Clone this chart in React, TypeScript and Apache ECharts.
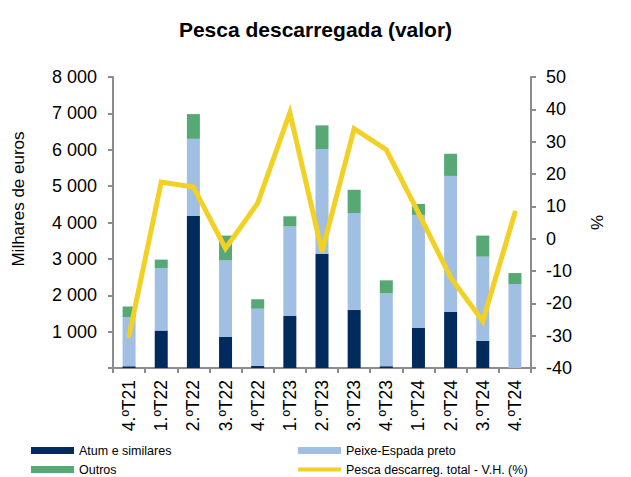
import React, { useEffect, useRef } from "react";
import * as echarts from "echarts";

const categories = ["4.ºT21", "1.ºT22", "2.ºT22", "3.ºT22", "4.ºT22", "1.ºT23", "2.ºT23", "3.ºT23", "4.ºT23", "1.ºT24", "2.ºT24", "3.ºT24", "4.ºT24"];
const atum = [50, 1030, 4180, 860, 60, 1430, 3140, 1600, 50, 1100, 1540, 750, 0];
const peixeEspada = [1350, 1720, 2120, 2100, 1570, 2460, 2880, 2660, 2000, 3110, 3740, 2310, 2310];
const outros = [290, 230, 680, 680, 260, 280, 650, 640, 360, 300, 610, 580, 300];
const variacao = [-30, 17.5, 16, -3, 11, 39, -4, 34, 27.5, 8, -12, -25.5, 8];

const FONT = "Liberation Sans, Arial, sans-serif";
const AXIS = "#8c8c8c";
const C_ATUM = "#002b5c";
const C_PEIXE = "#a0bfe3";
const C_OUTROS = "#56a874";
const C_LINE = "#f2d024";

export default function App() {
  const ref = useRef<HTMLDivElement>(null);
  useEffect(() => {
    const chart = echarts.init(ref.current!, null, { renderer: "svg" });
    const legendBase = {
      orient: "vertical",
      itemWidth: 43,
      itemHeight: 7,
      itemGap: 4,
      textStyle: { fontFamily: FONT, fontSize: 12.5, color: "#000" },
      padding: 0,
    };
    chart.setOption({
      animation: false,
      textStyle: { fontFamily: FONT },
      title: {
        text: "Pesca descarregada (valor)",
        left: "center",
        top: 14,
        textStyle: { fontFamily: FONT, fontSize: 21, fontWeight: "bold", color: "#000" },
      },
      legend: [
        { ...legendBase, left: 31, top: 444, data: [{ name: "Atum e similares", icon: "rect" }] },
        { ...legendBase, left: 31, top: 463, data: [{ name: "Outros", icon: "rect" }] },
        { ...legendBase, left: 298, top: 444, data: [{ name: "Peixe-Espada preto", icon: "rect" }] },
        { ...legendBase, left: 298, top: 463, itemHeight: 4, data: [{ name: "Pesca descarreg. total - V.H. (%)", icon: "roundRect" }] },
      ],
      grid: { left: 113, right: 100, top: 77, bottom: 109 },
      xAxis: {
        type: "category",
        data: categories,
        axisLine: { lineStyle: { color: AXIS, width: 2 } },
        axisTick: { show: true, length: 5, lineStyle: { color: AXIS, width: 2 } },
        axisLabel: { rotate: 90, fontSize: 17.5, color: "#000", fontFamily: FONT, margin: 12 },
      },
      yAxis: [
        {
          type: "value",
          min: 0,
          max: 8000,
          interval: 1000,
          axisLine: { show: true, lineStyle: { color: AXIS, width: 2 } },
          axisTick: { show: true, length: 5, lineStyle: { color: AXIS, width: 2 } },
          splitLine: { show: false },
          axisLabel: {
            fontSize: 18,
            color: "#000",
            fontFamily: FONT,
            margin: 16,
            formatter: (v: number) => (v === 0 ? "" : v >= 1000 ? `${Math.floor(v / 1000)} ${String(v % 1000).padStart(3, "0")}` : String(v)),
          },
        },
        {
          type: "value",
          min: -40,
          max: 50,
          interval: 10,
          position: "right",
          name: "%",
          nameLocation: "middle",
          nameRotate: 90,
          nameGap: 58,
          nameTextStyle: { fontSize: 17, color: "#000", fontFamily: FONT },
          axisLine: { show: true, lineStyle: { color: AXIS, width: 2 } },
          axisTick: { show: true, length: 5, lineStyle: { color: AXIS, width: 2 } },
          splitLine: { show: false },
          axisLabel: { fontSize: 18, color: "#000", fontFamily: FONT, margin: 15 },
        },
      ],
      graphic: [
        {
          type: "text",
          x: 18,
          y: 199,
          rotation: Math.PI / 2,
          style: {
            text: "Milhares de euros",
            font: `17px ${FONT}`,
            fill: "#000",
            align: "center",
            verticalAlign: "middle",
          },
        },
      ],
      series: [
        { name: "Atum e similares", type: "bar", stack: "a", data: atum, barWidth: 13, itemStyle: { color: C_ATUM } },
        { name: "Peixe-Espada preto", type: "bar", stack: "a", data: peixeEspada, barWidth: 13, itemStyle: { color: C_PEIXE } },
        { name: "Outros", type: "bar", stack: "a", data: outros, barWidth: 13, itemStyle: { color: C_OUTROS } },
        {
          name: "Pesca descarreg. total - V.H. (%)",
          type: "line",
          yAxisIndex: 1,
          data: variacao,
          symbol: "none",
          lineStyle: { color: C_LINE, width: 5, cap: "round", join: "miter" },
          itemStyle: { color: C_LINE },
        },
      ],
    });
    return () => chart.dispose();
  }, []);
  return <div ref={ref} style={{ position: "absolute", left: 0, top: 0, width: 631, height: 477 }} />;
}
